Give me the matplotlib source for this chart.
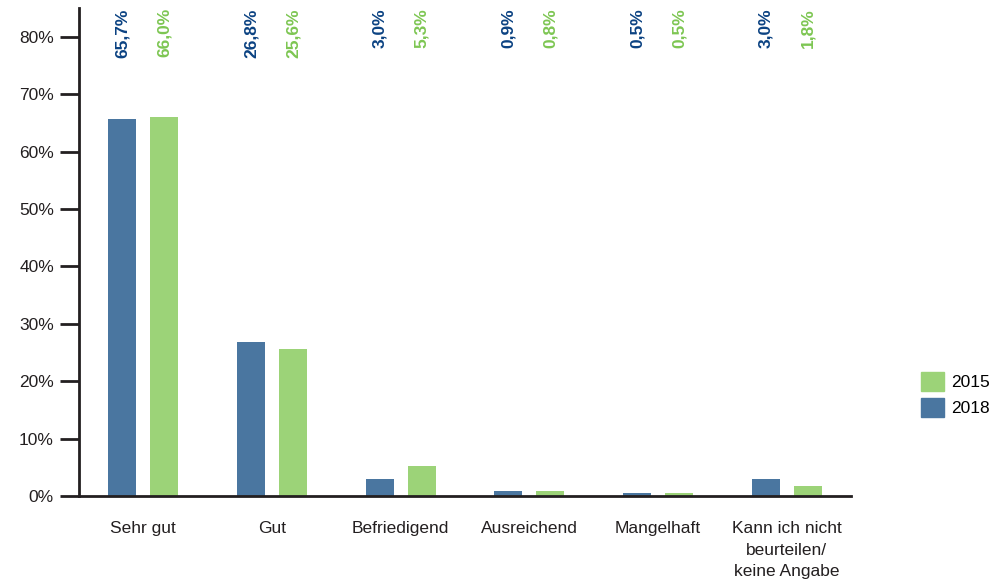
import numpy as np
import matplotlib.pyplot as plt
from matplotlib.patches import Patch

plt.rcParams['font.family'] = ['Liberation Sans', 'DejaVu Sans']

# Data
categories = ['Sehr gut', 'Gut', 'Befriedigend', 'Ausreichend', 'Mangelhaft',
              'Kann ich nicht\nbeurteilen/\nkeine Angabe']
values_2018 = [65.7, 26.8, 3.0, 0.9, 0.5, 3.0]
values_2015 = [66.0, 25.6, 5.3, 0.8, 0.5, 1.8]
labels_2018 = ['65,7%', '26,8%', '3,0%', '0,9%', '0,5%', '3,0%']
labels_2015 = ['66,0%', '25,6%', '5,3%', '0,8%', '0,5%', '1,8%']

blue = '#4a76a0'
green = '#9cd378'
blue_txt = '#0b4282'
green_txt = '#7dc652'
axis_col = '#231f20'

fig = plt.figure(figsize=(9.99, 5.84), dpi=100)
ax = fig.add_axes([0.079, 0.1507, 0.773, 0.8353])

x = np.arange(len(categories))
w = 0.218
off = 0.163
ax.bar(x - off, values_2018, w, color=blue)
ax.bar(x + off, values_2015, w, color=green)

# value labels at the top
for i in range(len(categories)):
    ax.text(x[i] - off, 85.0, labels_2018[i], rotation=90, ha='center', va='top',
            fontsize=12.5, fontweight='bold', color=blue_txt)
    ax.text(x[i] + off, 85.0, labels_2015[i], rotation=90, ha='center', va='top',
            fontsize=12.5, fontweight='bold', color=green_txt)

ax.set_xlim(-0.5, 5.5)
ax.set_ylim(0, 85)
ax.set_yticks(range(0, 81, 10))
ax.set_yticklabels([f'{v}%' for v in range(0, 81, 10)], fontsize=12.5, color='#231f20')
ax.set_xticks(x)
ax.set_xticklabels(categories, fontsize=12.5, color='#231f20', linespacing=1.55)

ax.tick_params(axis='y', length=14, width=2, color=axis_col, pad=4)
ax.tick_params(axis='x', length=0, pad=18)

for s in ['top', 'right']:
    ax.spines[s].set_visible(False)
for s in ['left', 'bottom']:
    ax.spines[s].set_color(axis_col)
    ax.spines[s].set_linewidth(2)

handles = [Patch(color=green, label='2015'), Patch(color=blue, label='2018')]
fig.legend(handles=handles, loc='center left', bbox_to_anchor=(0.922, 0.325),
           frameon=False, fontsize=12.5, handlelength=1.3, handleheight=1.3,
           handletextpad=0.45, labelspacing=0.4, borderpad=0, borderaxespad=0)

fig.savefig('out.png', dpi=100)
